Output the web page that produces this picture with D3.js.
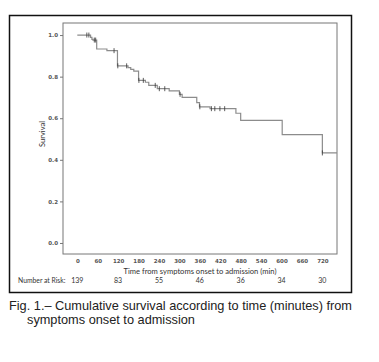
<!DOCTYPE html>
<html>
<head>
<meta charset="utf-8">
<script src="https://cdn.jsdelivr.net/npm/d3@7"></script>
<style>
  body { margin: 0; background: #fff; }
  svg { display: block; }
</style>
</head>
<body>
<div id="chart"></div>
<script>
// Kaplan-Meier steps
const eventTimes = [0, 39, 43, 46, 57, 87, 118, 149, 157, 166, 180, 200, 210, 235, 270, 300, 308, 351, 359, 390, 466, 480, 602, 720, 763];
const survival = [1.0, 0.989, 0.979, 0.976, 0.933, 0.925, 0.852, 0.843, 0.835, 0.827, 0.782, 0.773, 0.758, 0.742, 0.732, 0.715, 0.700, 0.675, 0.655, 0.646, 0.624, 0.590, 0.521, 0.433, 0.433];
const censorTimes = [28, 34, 50, 54, 108, 119, 145, 181, 194, 229, 241, 257, 302, 360, 394, 404, 419, 433, 720];

const xTicks = [0, 60, 120, 180, 240, 300, 360, 420, 480, 540, 600, 660, 720];
const yTicks = [0, 0.2, 0.4, 0.6, 0.8, 1.0];
const riskTimes = [0, 120, 240, 360, 480, 600, 720];
const riskCounts = [139, 83, 55, 46, 36, 34, 30];

const width = 379, height = 362;
const box = { left: 63, top: 23, right: 337, bottom: 254 };

const svg = d3.select("#chart")
  .append("svg")
  .attr("width", width)
  .attr("height", height);

// outer frame
svg.append("rect")
  .attr("x", 9.5).attr("y", 15.5)
  .attr("width", 342).attr("height", 277)
  .attr("fill", "none").attr("stroke", "#111").attr("stroke-width", 1.5);

const x = d3.scaleLinear().domain([-42, 763]).range([box.left, box.right]);
const y = d3.scaleLinear().domain([-0.053, 1.058]).range([box.bottom, box.top]);

// plot frame
svg.append("rect")
  .attr("x", box.left).attr("y", box.top)
  .attr("width", box.right - box.left).attr("height", box.bottom - box.top)
  .attr("fill", "none").attr("stroke", "#777").attr("stroke-width", 1);

const yAxis = svg.append("g")
  .attr("transform", `translate(${box.left},0)`)
  .call(d3.axisLeft(y).tickValues(yTicks).tickFormat(d3.format(".1f")).tickSize(3).tickPadding(2));
yAxis.select(".domain").remove();
yAxis.selectAll("line").attr("stroke", "#777");
yAxis.selectAll("text")
  .attr("font-family", "DejaVu Sans").attr("font-size", 5.5).attr("font-weight", "bold").attr("fill", "#555");

const xAxis = svg.append("g")
  .attr("transform", `translate(0,${box.bottom})`)
  .call(d3.axisBottom(x).tickValues(xTicks).tickSize(0).tickPadding(5));
xAxis.select(".domain").remove();
xAxis.selectAll("text")
  .attr("font-family", "DejaVu Sans").attr("font-size", 5.5).attr("font-weight", "bold").attr("fill", "#555");

// axis titles
svg.append("text")
  .attr("transform", "translate(45,134) rotate(-90)")
  .attr("text-anchor", "middle")
  .attr("font-family", "Lato").attr("font-size", 7.5).attr("fill", "#333")
  .text("Survival");

svg.append("text")
  .attr("x", 200).attr("y", 274)
  .attr("text-anchor", "middle")
  .attr("font-family", "Lato").attr("font-size", 7.6).attr("fill", "#333")
  .text("Time from symptoms onset to admission (min)");

// number at risk row
svg.append("text")
  .attr("x", 18).attr("y", 283)
  .attr("font-family", "Lato").attr("font-size", 6.8).attr("fill", "#333")
  .text("Number at Risk:");

svg.selectAll(".risk")
  .data(riskTimes)
  .enter().append("text")
  .attr("class", "risk")
  .attr("x", d => x(d)).attr("y", 283)
  .attr("text-anchor", "middle")
  .attr("font-family", "Lato").attr("font-size", 7).attr("fill", "#333")
  .text((d, i) => riskCounts[i]);

// survival curve
const points = eventTimes.map((t, i) => [t, survival[i]]);
const line = d3.line()
  .x(d => x(d[0]))
  .y(d => y(d[1]))
  .curve(d3.curveStepAfter);

svg.append("path")
  .datum(points)
  .attr("d", line)
  .attr("fill", "none")
  .attr("stroke", "#8c8c8c")
  .attr("stroke-width", 1.2);

const survAt = t => {
  let s = survival[0];
  eventTimes.forEach((et, i) => { if (et <= t) s = survival[i]; });
  return s;
};

svg.selectAll(".censor")
  .data(censorTimes)
  .enter().append("line")
  .attr("class", "censor")
  .attr("x1", d => x(d)).attr("x2", d => x(d))
  .attr("y1", d => y(survAt(d)) - 2.5)
  .attr("y2", d => y(survAt(d)) + 2.5)
  .attr("stroke", "#333")
  .attr("stroke-width", 0.8);

// caption
const caption = svg.append("text")
  .attr("font-family", "Liberation Sans").attr("font-size", 12.75).attr("fill", "#222");
caption.append("tspan").attr("x", 9).attr("y", 310)
  .text("Fig. 1.\u2013 Cumulative survival according to time (minutes) from");
caption.append("tspan").attr("x", 27).attr("y", 324)
  .text("symptoms onset to admission");
</script>
</body>
</html>
